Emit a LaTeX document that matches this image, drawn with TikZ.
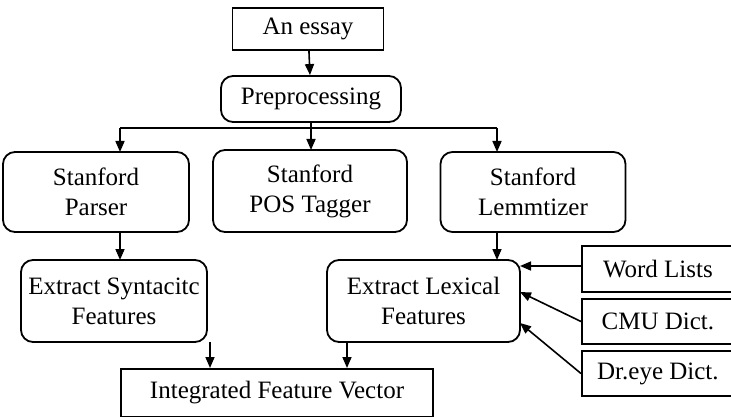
\documentclass[tikz,border=0pt]{standalone}
\usepackage{fontspec}
\setmainfont{Liberation Serif}
\usetikzlibrary{arrows.meta}
\begin{document}
\begin{tikzpicture}[x=1pt,y=-1pt,
 box/.style={draw,line width=1.8pt,inner sep=0pt,font=\fontsize{25}{30}\selectfont,align=center},
 rbox/.style={box,rounded corners=12pt},
 arr/.style={-{Triangle[length=11pt,width=9pt]},line width=1.6pt}]
\useasboundingbox (0,0) rectangle (731,417);
\node[box,minimum width=151,minimum height=42] (essay) at (308,29) {An essay};
\node[rbox,minimum width=180,minimum height=46] (pre) at (311,99) {Preprocessing};
\node[rbox,minimum width=186,minimum height=80] (sp) at (96,192) {Stanford\\Parser};
\node[rbox,minimum width=194,minimum height=82] (pos) at (310,191) {Stanford\\POS Tagger};
\node[rbox,minimum width=185,minimum height=80] (lem) at (533,192) {Stanford\\Lemmtizer};
\node[rbox,minimum width=186,minimum height=82] (syn) at (114,301) {Extract Syntacitc\\Features};
\node[rbox,minimum width=193,minimum height=82] (lex) at (423.5,301) {Extract Lexical\\Features};
\node[box,minimum width=152,minimum height=46,anchor=west] (wl) at (581,269) {Word Lists};
\node[box,minimum width=152,minimum height=45,anchor=west] (cmu) at (581,321.5) {CMU Dict.};
\node[box,minimum width=152,minimum height=45,anchor=west] (dre) at (581,373.5) {Dr.eye Dict.};
\node[box,minimum width=312,minimum height=48,anchor=north] (ifv) at (277,368) {Integrated Feature Vector};
\draw[arr] (essay) -- (pre);
\draw[line width=1.6pt] (311,122) -- (311,128);
\draw[line width=1.6pt] (120,128) -- (497,128);
\draw[arr] (120,128) -- (120,152);
\draw[arr] (311,128) -- (311,150);
\draw[arr] (497,128) -- (497,152);
\draw[arr] (120,232) -- (120,260);
\draw[arr] (497,232) -- (497,260);
\draw[arr] (wl.west|-0,266) -- (520,266);
\draw[arr] (cmu.west) -- (520,292);
\draw[arr] (dre.west) -- (520,323);
\draw[arr] (210,342) -- (210,368);
\draw[arr] (347,342) -- (347,368);
\end{tikzpicture}
\end{document}
